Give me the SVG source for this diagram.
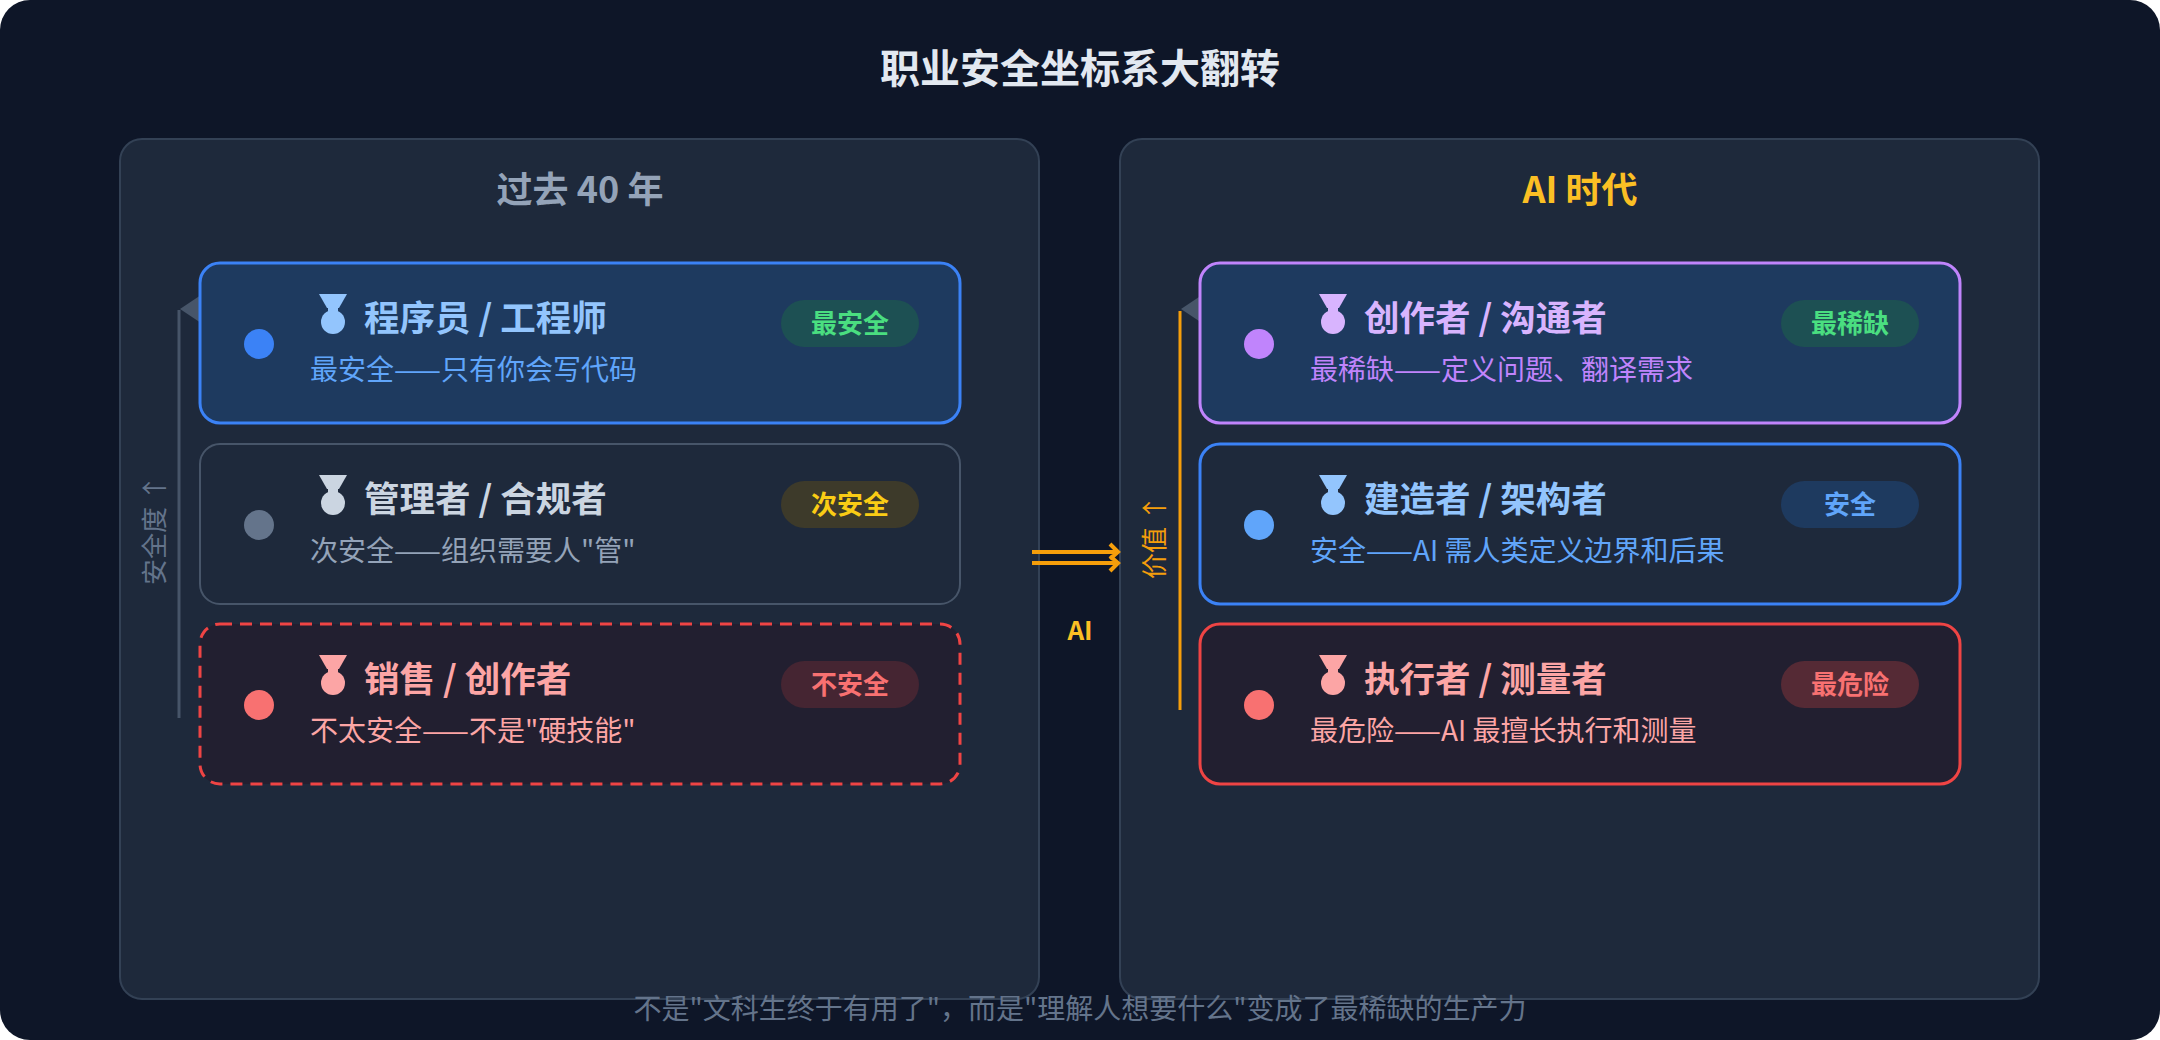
<svg xmlns="http://www.w3.org/2000/svg" width="2160" height="1040" viewBox="0 0 2160 1040">
<defs>
<style>
text{font-family:"Noto Sans CJK SC","Liberation Sans",sans-serif}
.panel{fill:#1e293b;stroke:#334155;stroke-width:2}
.pt{font-size:36px;font-weight:bold;text-anchor:middle}
.ct{font-size:35.5px;font-weight:bold}
.cs{font-size:28px}
.bt{font-size:26px;font-weight:bold;text-anchor:middle}
.ax{font-size:26px;text-anchor:middle}
</style>
<g id="medal"><polygon points="-14,0 14,0 6,14 -6,14"/><rect x="-5" y="12" width="10" height="6"/><circle cx="0" cy="28" r="12"/></g>
</defs>
<rect x="0" y="0" width="2160" height="1040" rx="30" fill="#0e1628"/>
<text x="1080" y="83" font-size="40" font-weight="bold" text-anchor="middle" fill="#e2e8f0">职业安全坐标系大翻转</text>

<g id="panel-left"><rect class="panel" x="120" y="139" width="919" height="860" rx="22"/><text class="pt" x="580" y="203" fill="#94a3b8">过去 40 年</text></g>
<g id="panel-right"><rect class="panel" x="1120" y="139" width="919" height="860" rx="22"/><text class="pt" x="1580" y="203" fill="#fbbf24">AI 时代</text></g>

<g id="connectors">
<line x1="179" y1="310" x2="179" y2="718" stroke="#475569" stroke-width="3"/>
<polygon points="180,309 201,295 201,323" fill="#475569"/>
<line x1="1180" y1="311" x2="1180" y2="710" stroke="#f59e0b" stroke-width="3"/>
<polygon points="1181,309 1202,295 1202,323" fill="#475569"/>
<g stroke="#f59e0b" stroke-width="4" fill="none">
<line x1="1032" y1="552" x2="1116" y2="552"/><line x1="1032" y1="563" x2="1116" y2="563"/>
<polyline points="1110,544 1118,552 1110,559"/><polyline points="1110,556 1118,563 1110,571"/>
</g>
<text x="1080" y="640" font-size="26" font-weight="bold" text-anchor="middle" fill="#fbbf24">AI</text>
</g>
<text class="ax" transform="translate(164,530) rotate(-90)" fill="#64748b">安全度 ↑</text>
<text class="ax" transform="translate(1164,537) rotate(-90)" fill="#f59e0b">价值 ↑</text>

<g id="card-l1" transform="translate(200,263)">
<rect x="0" y="0" width="760" height="160" rx="20" fill="#1e3a5f" stroke="#3b82f6" stroke-width="3"/>
<circle cx="59" cy="81" r="15" fill="#3b82f6"/>
<use href="#medal" x="133" y="31" fill="#93c5fd"/>
<text class="ct" x="164" y="68" fill="#93c5fd">程序员 / 工程师</text>
<text class="cs" x="110" y="117" fill="#60a5fa">最安全——只有你会写代码</text>
<rect x="581" y="37" width="138" height="47" rx="23.5" fill="#1d5053"/>
<text class="bt" x="650" y="70" fill="#4ade80">最安全</text>
</g>
<g id="card-l2" transform="translate(200,444)">
<rect x="0" y="0" width="760" height="160" rx="20" fill="#1e293b" stroke="#475569" stroke-width="2"/>
<circle cx="59" cy="81" r="15" fill="#64748b"/>
<use href="#medal" x="133" y="31" fill="#cbd5e1"/>
<text class="ct" x="164" y="68" fill="#cbd5e1">管理者 / 合规者</text>
<text class="cs" x="110" y="117" fill="#94a3b8">次安全——组织需要人"管"</text>
<rect x="581" y="37" width="138" height="47" rx="23.5" fill="#3d3a2a"/>
<text class="bt" x="650" y="70" fill="#facc15">次安全</text>
</g>
<g id="card-l3" transform="translate(200,624)">
<rect x="0" y="0" width="760" height="160" rx="20" fill="#221f30" stroke="#ef4444" stroke-width="3" stroke-dasharray="12,8"/>
<circle cx="59" cy="81" r="15" fill="#f87171"/>
<use href="#medal" x="133" y="31" fill="#fca5a5"/>
<text class="ct" x="164" y="68" fill="#fca5a5">销售 / 创作者</text>
<text class="cs" x="110" y="117" fill="#fca5a5">不太安全——不是"硬技能"</text>
<rect x="581" y="37" width="138" height="47" rx="23.5" fill="#452532"/>
<text class="bt" x="650" y="70" fill="#f87171">不安全</text>
</g>

<g id="card-r1" transform="translate(1200,263)">
<rect x="0" y="0" width="760" height="160" rx="20" fill="#1e3a5f" stroke="#c084fc" stroke-width="3"/>
<circle cx="59" cy="81" r="15" fill="#c084fc"/>
<use href="#medal" x="133" y="31" fill="#d8b4fe"/>
<text class="ct" x="164" y="68" fill="#d8b4fe">创作者 / 沟通者</text>
<text class="cs" x="110" y="117" fill="#c084fc">最稀缺——定义问题、翻译需求</text>
<rect x="581" y="37" width="138" height="47" rx="23.5" fill="#1d5053"/>
<text class="bt" x="650" y="70" fill="#4ade80">最稀缺</text>
</g>
<g id="card-r2" transform="translate(1200,444)">
<rect x="0" y="0" width="760" height="160" rx="20" fill="#1e293b" stroke="#3b82f6" stroke-width="3"/>
<circle cx="59" cy="81" r="15" fill="#60a5fa"/>
<use href="#medal" x="133" y="31" fill="#93c5fd"/>
<text class="ct" x="164" y="68" fill="#93c5fd">建造者 / 架构者</text>
<text class="cs" x="110" y="117" fill="#60a5fa">安全——AI 需人类定义边界和后果</text>
<rect x="581" y="37" width="138" height="47" rx="23.5" fill="#1e3a5f"/>
<text class="bt" x="650" y="70" fill="#60a5fa">安全</text>
</g>
<g id="card-r3" transform="translate(1200,624)">
<rect x="0" y="0" width="760" height="160" rx="20" fill="#221f30" stroke="#ef4444" stroke-width="3"/>
<circle cx="59" cy="81" r="15" fill="#f87171"/>
<use href="#medal" x="133" y="31" fill="#fca5a5"/>
<text class="ct" x="164" y="68" fill="#fca5a5">执行者 / 测量者</text>
<text class="cs" x="110" y="117" fill="#fca5a5">最危险——AI 最擅长执行和测量</text>
<rect x="581" y="37" width="138" height="47" rx="23.5" fill="#552a35"/>
<text class="bt" x="650" y="70" fill="#f87171">最危险</text>
</g>

<text x="1080" y="1019" font-size="28" text-anchor="middle" fill="#64748b">不是"文科生终于有用了"，而是"理解人想要什么"变成了最稀缺的生产力</text>
</svg>
